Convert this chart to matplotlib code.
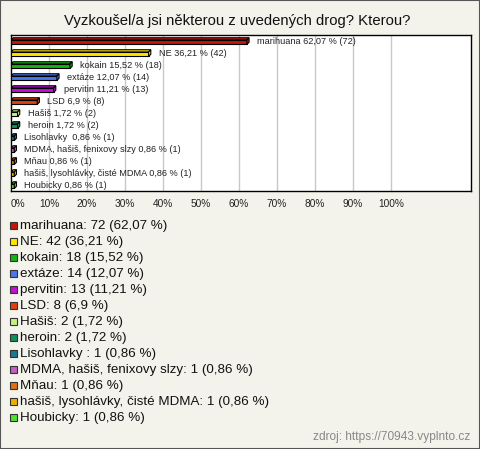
import matplotlib
matplotlib.use("Agg")
import matplotlib.pyplot as plt
from matplotlib.patches import Polygon, Rectangle

plt.rcParams['font.family'] = ['Liberation Sans', 'DejaVu Sans']

categories = ["marihuana", "NE", "kokain", "extáze", "pervitin", "LSD", "Hašiš", "heroin",
              "Lisohlavky ", "MDMA, hašiš, fenixovy slzy", "Mňau",
              "hašiš, lysohlávky, čisté MDMA", "Houbicky"]
counts = [72, 42, 18, 14, 13, 8, 2, 2, 1, 1, 1, 1, 1]
percents = [62.07, 36.21, 15.52, 12.07, 11.21, 6.9, 1.72, 1.72, 0.86, 0.86, 0.86, 0.86, 0.86]
pct_labels = ["62,07", "36,21", "15,52", "12,07", "11,21", "6,9", "1,72", "1,72",
              "0,86", "0,86", "0,86", "0,86", "0,86"]
colors = ["#c0160c", "#ffe600", "#14b414", "#4a78ec", "#c010d0", "#e04010", "#c8f080",
          "#10905a", "#1a7890", "#c060c0", "#e07010", "#e8b000", "#50e030"]
xticks = [0, 10, 20, 30, 40, 50, 60, 70, 80, 90, 100]

W, H = 480, 449
bg = "#f3f3ec"
fig = plt.figure(figsize=(W / 100, H / 100), dpi=100, facecolor=bg)
fig.patches.append(Rectangle((0, 0), 1, 1, transform=fig.transFigure, fill=False,
                             edgecolor="#555555", lw=1.5))

ax_l, ax_r, ax_t, ax_b = 11, 471, 35, 191
ax = fig.add_axes([ax_l / W, (H - ax_b) / H, (ax_r - ax_l) / W, (ax_b - ax_t) / H])
ax.set_facecolor("white")
px_per_10 = 38.0
xmax = (ax_r - ax_l) / px_per_10 * 10
n = len(categories)
ax.set_xlim(0, xmax)
ax.set_ylim(n - 0.5, -0.5)
row_px = (ax_b - ax_t) / n

for x in xticks[1:]:
    ax.axvline(x, color="#c8c8c8", lw=1, zorder=0)

dx = 2.2 / px_per_10 * 10  # depth in data units (x)
dy = 2.2 / row_px           # depth in data units (y)
h = 4.5 / row_px
off = 1.2 / row_px
for i, (v, c) in enumerate(zip(percents, colors)):
    y0 = i - h / 2 + off
    y1 = i + h / 2 + off
    front = Polygon([(0, y0), (v, y0), (v, y1), (0, y1)], closed=True,
                    facecolor=c, edgecolor="black", lw=0.8, zorder=3)
    top = Polygon([(0, y0), (v, y0), (v + dx, y0 - dy), (dx, y0 - dy)], closed=True,
                  facecolor=c, edgecolor="black", lw=0.8, zorder=3)
    side = Polygon([(v, y0), (v + dx, y0 - dy), (v + dx, y1 - dy), (v, y1)], closed=True,
                   facecolor=c, edgecolor="black", lw=0.8, zorder=3)
    for p in (front, top, side):
        ax.add_patch(p)
    ax.text(v + 10 / px_per_10 * 10, i, f"{categories[i]} {pct_labels[i]} % ({counts[i]})",
            fontsize=6.6, va="center", ha="left", color="#222222", zorder=4)

ax.set_xticks(xticks)
ax.set_xticklabels([f"{t}%" for t in xticks], fontsize=7.3, color="#222222")
ax.get_xticklabels()[0].set_horizontalalignment("left")
ax.tick_params(axis="x", length=0, pad=6)
ax.set_yticks([])
for s in ax.spines.values():
    s.set_color("black")
    s.set_linewidth(1)

fig.text(237 / W, 1 - 20.5 / H, "Vyzkoušel/a jsi některou z uvedených drog? Kterou?",
         ha="center", va="center", fontsize=10.7, color="#111111")

# legend
for i, (cat, cnt, pl, c) in enumerate(zip(categories, counts, pct_labels, colors)):
    yc = 225.7 + 16 * i
    fig.patches.append(Rectangle((10 / W, 1 - (yc + 3.5) / H), 7 / W, 7 / H,
                                 transform=fig.transFigure, facecolor=c,
                                 edgecolor="#333333", lw=0.8))
    fig.text(20 / W, 1 - yc / H, f"{cat}: {cnt} ({pl} %)", ha="left", va="center",
             fontsize=9.6, color="#111111")

fig.text(470 / W, 1 - 437 / H, "zdroj: https://70943.vyplnto.cz", ha="right", va="center",
         fontsize=8.6, color="#888888")

fig.savefig("out.png", dpi=100, facecolor=bg)
